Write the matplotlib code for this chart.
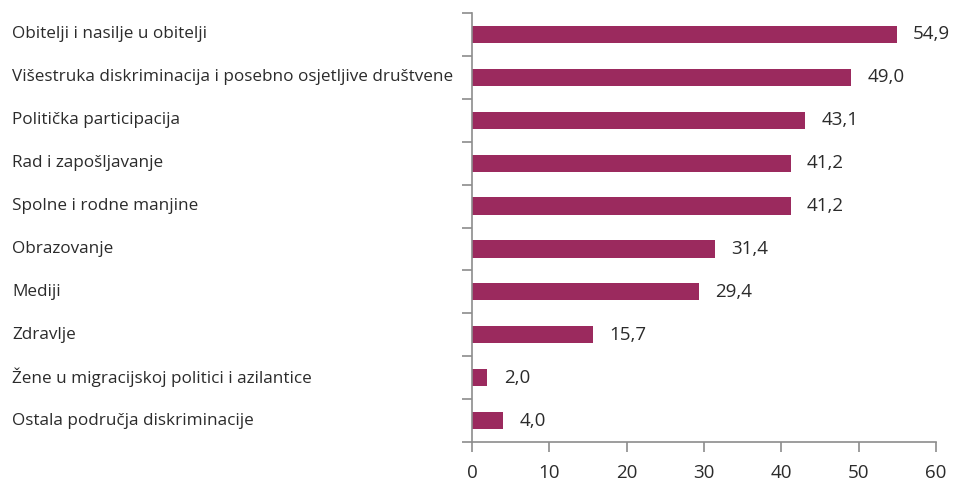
import numpy as np
import matplotlib.pyplot as plt

# Podaci
kategorije = [
    "Obitelji i nasilje u obitelji",
    "Višestruka diskriminacija i posebno osjetljive društvene",
    "Politička participacija",
    "Rad i zapošljavanje",
    "Spolne i rodne manjine",
    "Obrazovanje",
    "Mediji",
    "Zdravlje",
    "Žene u migracijskoj politici i azilantice",
    "Ostala područja diskriminacije",
]
vrijednosti = [54.9, 49.0, 43.1, 41.2, 41.2, 31.4, 29.4, 15.7, 2.0, 4.0]
oznake = ["54,9", "49,0", "43,1", "41,2", "41,2", "31,4", "29,4", "15,7", "2,0", "4,0"]

boja = "#9b2a5e"
siva = "#8c8c8c"
plt.rcParams["font.family"] = ["Open Sans", "DejaVu Sans"]

fig = plt.figure(figsize=(9.72, 4.82), dpi=100)
ax = fig.add_axes([0.4856, 0.083, 0.4774, 0.890])

y = np.arange(len(kategorije))
ax.barh(y, vrijednosti, height=0.4, color=boja)

# Vrijednosti desno od stupaca
for yi, v, t in zip(y, vrijednosti, oznake):
    ax.text(v + 2.1, yi, t, va="center", ha="left", fontsize=13.5, color="#2b2b2b")

ax.set_xlim(0, 60)
ax.set_ylim(len(kategorije) - 0.5, -0.5)
ax.set_xticks(range(0, 61, 10))
ax.set_yticks(np.arange(-0.5, len(kategorije), 1.0))
ax.set_yticklabels([])
ax.tick_params(axis="both", colors=siva, length=7, width=1.2, labelcolor="#2b2b2b", labelsize=13.5)
ax.tick_params(axis="x", pad=9)

for s in ["top", "right"]:
    ax.spines[s].set_visible(False)
for s in ["left", "bottom"]:
    ax.spines[s].set_color(siva)
    ax.spines[s].set_linewidth(1.2)

# Nazivi kategorija poravnani lijevo
fig.canvas.draw()
for yi, k in zip(y, kategorije):
    py = ax.transData.transform((0, yi))[1]
    fig.text(12 / 972, py / fig.bbox.height, k, ha="left", va="center", fontsize=12.3, color="#2b2b2b")

fig.savefig("out.png", dpi=100)
